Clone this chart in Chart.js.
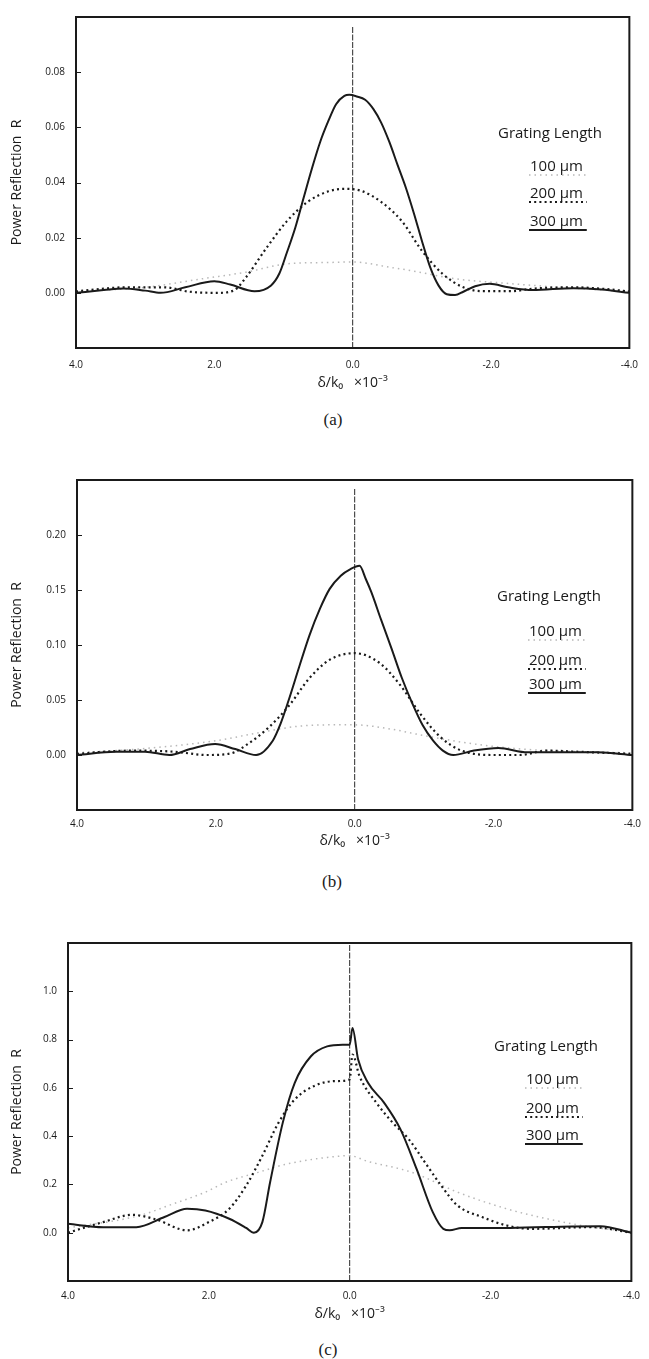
<!DOCTYPE html>
<html>
<head>
<meta charset="utf-8">
<title>Power reflection vs detuning</title>
<script src="https://cdn.jsdelivr.net/npm/chart.js@4.4.1/dist/chart.umd.min.js"></script>
<style>
  body { margin: 0; background: #fff; }
  .page { position: relative; width: 649px; height: 1359px; overflow: hidden; }
  .panel { position: absolute; left: 0; width: 649px; }
  .caption { position: absolute; width: 40px; text-align: center; font-family: 'Liberation Serif', serif; font-size: 17px; line-height: 20px; color: #1a1a1a; }
</style>
</head>
<body>
<div class="page">
  <div class="panel" style="top:0px;height:391px"><canvas id="chartA"></canvas></div>
  <div class="caption" style="left:313px;top:410px">(a)</div>
  <div class="panel" style="top:463px;height:386px"><canvas id="chartB"></canvas></div>
  <div class="caption" style="left:312px;top:872px">(b)</div>
  <div class="panel" style="top:926px;height:396px"><canvas id="chartC"></canvas></div>
  <div class="caption" style="left:308px;top:1340px">(c)</div>
</div>

<script>
// x: normalized detuning delta/k0 (x 10^-3), axis runs from +4 down to -4
const xTicks = [4, 2, 0, -2, -4];
const legendLabels = ['100 \u03bcm', '200 \u03bcm', '300 \u03bcm'];

// (a) weak coupling
const yTicksA = [0, 0.02, 0.04, 0.06, 0.08];
const centerLineA = [-0.02, 0.0964];
const xA100 = [4.0, 3.0, 2.2, 1.54, 0.95, 0.35, 0.0, -0.53, -0.83, -1.48, -2.2, -3.0, -4.0];
const rA100 = [0.0005, 0.002, 0.005, 0.0075, 0.0105, 0.011, 0.0112, 0.0093, 0.0081, 0.0051, 0.0035, 0.002, 0.0005];
const xA200 = [4.0, 3.6, 3.31, 2.72, 2.36, 1.95, 1.71, 1.54, 1.24, 0.95, 0.65, 0.35, 0.12, -0.12, -0.41, -0.71, -1.0, -1.3, -1.6, -1.89, -2.3, -2.6, -3.19, -3.6, -4.0];
const rA200 = [0.0005, 0.0015, 0.002, 0.002, 0.0004, 0.0, 0.001, 0.0057, 0.0165, 0.026, 0.033, 0.0368, 0.0377, 0.037, 0.033, 0.026, 0.0153, 0.0069, 0.002, 0.0006, 0.0006, 0.0015, 0.002, 0.0015, 0.0005];
const xA300 = [4.0, 3.6, 3.31, 3.0, 2.78, 2.42, 2.0, 1.77, 1.42, 1.18, 1.06, 0.95, 0.83, 0.71, 0.59, 0.47, 0.35, 0.24, 0.12, 0.05, -0.06, -0.18, -0.3, -0.41, -0.53, -0.65, -0.77, -0.89, -1.0, -1.12, -1.24, -1.36, -1.48, -1.6, -1.77, -1.98, -2.25, -2.6, -3.19, -3.6, -4.0];
const rA300 = [0.0, 0.001, 0.0016, 0.0008, 0.0, 0.002, 0.0042, 0.003, 0.0006, 0.0027, 0.007, 0.0147, 0.0236, 0.0344, 0.045, 0.0547, 0.0624, 0.0684, 0.0714, 0.0718, 0.0712, 0.07, 0.0666, 0.0618, 0.0547, 0.0463, 0.038, 0.0284, 0.0189, 0.0093, 0.0027, -0.0005, -0.0008, 0.0004, 0.0024, 0.0033, 0.002, 0.001, 0.0017, 0.0012, 0.0];

// (b) medium coupling
const yTicksB = [0, 0.05, 0.10, 0.15, 0.20];
const centerLineB = [-0.05, 0.243];
const xB100 = [4.0, 3.0, 2.0, 1.4, 0.83, 0.36, 0.0, -0.53, -0.89, -1.72, -2.5, -3.3, -4.0];
const rB100 = [0.002, 0.006, 0.013, 0.02, 0.026, 0.0274, 0.0274, 0.0235, 0.019, 0.01, 0.005, 0.003, 0.002];
const xB200 = [4.0, 3.6, 3.2, 2.6, 2.13, 1.78, 1.54, 1.24, 0.95, 0.65, 0.36, 0.0, -0.36, -0.65, -0.95, -1.24, -1.54, -2.01, -2.37, -2.78, -3.2, -3.6, -4.0];
const rB200 = [0.001, 0.003, 0.004, 0.003, 0.0, 0.0015, 0.01, 0.025, 0.0445, 0.07, 0.0866, 0.0926, 0.0836, 0.064, 0.037, 0.016, 0.004, 0.0, 0.0, 0.004, 0.003, 0.002, 0.001];
const xB300 = [4.0, 3.44, 3.02, 2.67, 2.37, 2.01, 1.72, 1.42, 1.18, 1.07, 0.95, 0.8, 0.65, 0.5, 0.36, 0.2, 0.06, -0.07, -0.16, -0.24, -0.38, -0.53, -0.68, -0.83, -0.98, -1.13, -1.27, -1.42, -1.72, -2.07, -2.49, -2.9, -3.5, -4.0];
const rB300 = [0.0, 0.003, 0.003, 0.0, 0.0054, 0.0099, 0.0054, 0.0, 0.013, 0.028, 0.05, 0.08, 0.109, 0.133, 0.151, 0.163, 0.169, 0.172, 0.16, 0.148, 0.123, 0.097, 0.07, 0.047, 0.027, 0.013, 0.004, 0.0, 0.004, 0.0063, 0.0024, 0.0024, 0.0024, 0.0];

// (c) strong coupling
const yTicksC = [0, 0.2, 0.4, 0.6, 0.8, 1.0];
const centerLineC = [-0.2, 1.2];
const xC100 = [4.0, 3.0, 2.5, 2.05, 1.76, 1.3, 0.9, 0.32, 0.0, -0.26, -0.72, -0.95, -1.53, -2.23, -2.69, -3.44, -4.0];
const rC100 = [0.02, 0.07, 0.12, 0.168, 0.209, 0.25, 0.284, 0.312, 0.319, 0.295, 0.264, 0.243, 0.168, 0.099, 0.065, 0.023, 0.005];
const xC200 = [4.0, 3.5, 3.09, 2.75, 2.31, 2.0, 1.71, 1.47, 1.24, 1.01, 0.78, 0.49, 0.2, 0.0, -0.04, -0.14, -0.38, -0.61, -0.84, -1.07, -1.3, -1.53, -1.88, -2.23, -2.57, -3.44, -4.0];
const rC200 = [0.0, 0.044, 0.074, 0.055, 0.01, 0.044, 0.099, 0.195, 0.319, 0.456, 0.552, 0.61, 0.628, 0.635, 0.738, 0.648, 0.538, 0.456, 0.387, 0.291, 0.195, 0.113, 0.065, 0.03, 0.016, 0.023, 0.0];
const xC300 = [4.0, 3.5, 3.03, 2.63, 2.31, 2.05, 1.71, 1.47, 1.36, 1.24, 1.13, 0.95, 0.78, 0.55, 0.32, 0.1, 0.0, -0.04, -0.12, -0.26, -0.49, -0.72, -0.95, -1.18, -1.33, -1.42, -1.59, -2.28, -3.15, -3.56, -4.0];
const rC300 = [0.037, 0.023, 0.023, 0.065, 0.099, 0.092, 0.058, 0.02, 0.0, 0.044, 0.209, 0.456, 0.621, 0.731, 0.772, 0.779, 0.779, 0.848, 0.717, 0.621, 0.538, 0.429, 0.264, 0.085, 0.016, 0.01, 0.02, 0.02, 0.026, 0.027, 0.0];

const ink = '#1a1a1a';
const tickFont = { family: 'Open Sans', size: 10 };
const titleFont = { family: 'Open Sans', size: 14 };

function toPoints(xs, ys) {
  return xs.map((x, i) => ({ x: x, y: ys[i] }));
}

// box around the plotting area plus short inward y ticks
const framePlugin = {
  id: 'frame',
  afterDatasetsDraw(chart) {
    const a = chart.chartArea;
    const ctx = chart.ctx;
    const ys = chart.scales.y;
    ctx.save();
    ctx.strokeStyle = ink;
    ctx.lineWidth = 2;
    ctx.strokeRect(a.left, a.top, a.right - a.left, a.bottom - a.top);
    ctx.lineWidth = 1.2;
    ctx.beginPath();
    ys.ticks.forEach(t => {
      const py = Math.round(ys.getPixelForValue(t.value)) + 0.5;
      ctx.moveTo(a.left, py);
      ctx.lineTo(a.left + 5, py);
    });
    ctx.stroke();
    ctx.restore();
  }
};

// "Grating Length" key: label with the line style drawn underneath
const gratingLegend = {
  id: 'gratingLegend',
  afterDraw(chart, args, opts) {
    const ctx = chart.ctx;
    const top = chart.chartArea.top;
    ctx.save();
    ctx.font = '15px "Open Sans"';
    ctx.textBaseline = 'middle';
    ctx.fillStyle = ink;
    ctx.fillText(opts.title, opts.titleX, top + opts.titleY);
    [0, 1, 2].forEach(i => {
      const ds = chart.data.datasets[i];
      const y = top + opts.itemY[i];
      ctx.fillStyle = ink;
      ctx.setLineDash([]);
      ctx.fillText(ds.label, opts.itemX, y);
      const w = ctx.measureText(ds.label).width;
      ctx.beginPath();
      ctx.setLineDash(ds.borderDash || []);
      ctx.strokeStyle = ds.borderColor;
      ctx.lineWidth = ds.borderWidth;
      ctx.moveTo(opts.itemX - 1, y + 8);
      ctx.lineTo(opts.itemX + w + 4, y + 8);
      ctx.stroke();
    });
    ctx.restore();
  }
};

function makePanel(id, p) {
  new Chart(document.getElementById(id), {
    type: 'line',
    data: {
      datasets: [
        {
          label: legendLabels[0],
          data: toPoints(p.x100, p.r100),
          borderColor: '#b8b8b8',
          borderWidth: 1.5,
          borderDash: [1.5, 4],
          order: 3
        },
        {
          label: legendLabels[1],
          data: toPoints(p.x200, p.r200),
          borderColor: ink,
          borderWidth: 2.2,
          borderDash: [2, 3.2],
          order: 2
        },
        {
          label: legendLabels[2],
          data: toPoints(p.x300, p.r300),
          borderColor: ink,
          borderWidth: 2,
          order: 1
        },
        {
          label: 'center',
          data: toPoints([0, 0], p.center),
          borderColor: '#2a2a2a',
          borderWidth: 1,
          borderDash: [6, 1.5],
          cubicInterpolationMode: 'default',
          tension: 0,
          order: 4
        }
      ]
    },
    options: {
      responsive: true,
      maintainAspectRatio: false,
      animation: false,
      events: [],
      layout: { padding: { top: 13, right: 9, left: 0, bottom: 0 } },
      elements: {
        point: { radius: 0 },
        line: { cubicInterpolationMode: 'monotone', fill: false }
      },
      scales: {
        x: {
          type: 'linear',
          reverse: true,
          min: -4,
          max: 4,
          afterBuildTicks: s => { s.ticks = xTicks.map(v => ({ value: v })); },
          afterFit: s => { s.height = p.xAxisHeight; },
          grid: { display: false, drawTicks: false },
          border: { display: false },
          ticks: {
            color: ink,
            font: tickFont,
            padding: p.xTickPad,
            maxRotation: 0,
            callback: v => v.toFixed(1)
          },
          title: {
            display: true,
            text: '\u03b4/k\u2080   \u00d710\u207b\u00b3',
            color: ink,
            font: titleFont,
            padding: 0
          }
        },
        y: {
          min: p.yMin,
          max: p.yMax,
          afterBuildTicks: s => { s.ticks = p.yTicks.map(v => ({ value: v })); },
          afterFit: s => { s.width = p.yAxisWidth; },
          grid: { display: false, drawTicks: false },
          border: { display: false },
          ticks: {
            color: ink,
            font: tickFont,
            padding: 11,
            callback: v => v.toFixed(p.digits)
          },
          title: {
            display: true,
            text: 'Power Reflection  R',
            color: ink,
            font: titleFont,
            padding: { top: 9, bottom: 0 }
          }
        }
      },
      plugins: {
        legend: { display: false },
        tooltip: { enabled: false },
        gratingLegend: {
          title: 'Grating Length',
          titleX: p.legendX,
          titleY: p.legendY[0],
          itemX: p.legendX + 32,
          itemY: p.legendY.slice(1)
        }
      }
    },
    plugins: [framePlugin, gratingLegend]
  });
}

makePanel('chartA', {
  x100: xA100, r100: rA100, x200: xA200, r200: rA200, x300: xA300, r300: rA300,
  center: centerLineA, yTicks: yTicksA, yMin: -0.02, yMax: 0.10, digits: 2,
  yAxisWidth: 76, xAxisHeight: 43, xTickPad: 11,
  legendX: 498, legendY: [117, 150, 177, 205]
});

makePanel('chartB', {
  x100: xB100, r100: rB100, x200: xB200, r200: rB200, x300: xB300, r300: rB300,
  center: centerLineB, yTicks: yTicksB, yMin: -0.05, yMax: 0.25, digits: 2,
  yAxisWidth: 77, xAxisHeight: 39, xTickPad: 8,
  legendX: 497, legendY: [117, 152, 181, 205]
});

makePanel('chartC', {
  x100: xC100, r100: rC100, x200: xC200, r200: rC200, x300: xC300, r300: rC300,
  center: centerLineC, yTicks: yTicksC, yMin: -0.2, yMax: 1.2, digits: 1,
  yAxisWidth: 68, xAxisHeight: 41, xTickPad: 9,
  legendX: 494, legendY: [104, 137, 166, 193]
});
</script>
</body>
</html>
